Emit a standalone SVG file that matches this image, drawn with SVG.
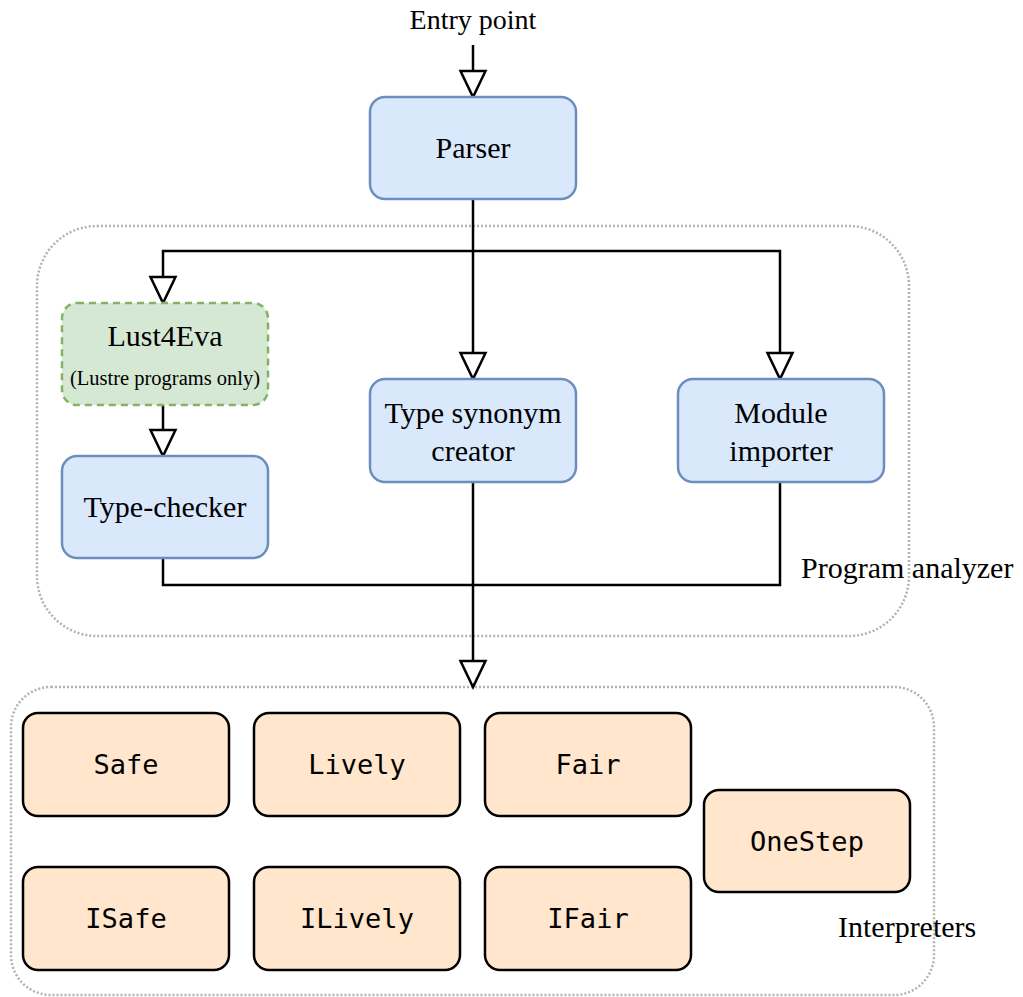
<svg xmlns="http://www.w3.org/2000/svg" width="1023" height="997" viewBox="0 0 1023 997">
<style>
.serif{font-family:"Liberation Serif","Times New Roman",serif;fill:#000;text-anchor:middle}
.mono{font-family:"DejaVu Sans Mono",monospace;fill:#000;text-anchor:middle;font-size:27px}
.blue{fill:#dae8fc;stroke:#6c8ebf;stroke-width:2.5}
.green{fill:#d5e8d4;stroke:#82b366;stroke-width:2.5;stroke-dasharray:7 5}
.orange{fill:#ffe6cc;stroke:#000;stroke-width:2.5}
.cont{fill:none;stroke:#b3b3b3;stroke-width:2.5;stroke-dasharray:2 2}
.edge{fill:none;stroke:#000;stroke-width:2.5}
</style>
<defs>
<marker id="open" markerUnits="userSpaceOnUse" viewBox="-2 -15 32 30" markerWidth="32" markerHeight="30" refX="26" refY="0" orient="auto">
<path d="M0,-12.5 L26,0 L0,12.5 Z" fill="#fff" stroke="#000" stroke-width="2.5"/>
</marker>
</defs>
<g id="program-analyzer">
<rect class="cont" x="37" y="226" width="872" height="410" rx="60"/>
<text class="serif" x="801" y="578" font-size="30" text-anchor="start" style="text-anchor:start">Program analyzer</text>
</g>
<g id="interpreters">
<rect class="cont" x="11" y="687" width="923" height="308" rx="40"/>
<text class="serif" x="838" y="937" font-size="30" style="text-anchor:start">Interpreters</text>
</g>
<g id="entry">
<text class="serif" x="473" y="29" font-size="28">Entry point</text>
</g>
<g id="connectors">
<path class="edge" d="M473,45 L473,97" marker-end="url(#open)"/>
<path class="edge" d="M473,199 L473,379" marker-end="url(#open)"/>
<path class="edge" d="M473,251 L163,251 L163,303" marker-end="url(#open)"/>
<path class="edge" d="M473,251 L780,251 L780,379" marker-end="url(#open)"/>
<path class="edge" d="M163,405 L163,456" marker-end="url(#open)"/>
<path class="edge" d="M163,558 L163,585 L780,585 L780,482"/>
<path class="edge" d="M473,482 L473,687" marker-end="url(#open)"/>
</g>
<g id="parser">
<rect class="blue" x="370" y="97" width="206" height="102" rx="15"/>
<text class="serif" x="473" y="158" font-size="30">Parser</text>
</g>
<g id="lust4eva">
<rect class="green" x="62" y="303" width="206" height="102" rx="15"/>
<text class="serif" x="165" y="346" font-size="30">Lust4Eva</text>
<text class="serif" x="165" y="385" font-size="20.5">(Lustre programs only)</text>
</g>
<g id="type-checker">
<rect class="blue" x="62" y="456" width="206" height="102" rx="15"/>
<text class="serif" x="165" y="517" font-size="30">Type-checker</text>
</g>
<g id="type-synonym">
<rect class="blue" x="370" y="379" width="206" height="103" rx="15"/>
<text class="serif" x="473" y="423" font-size="30">Type synonym</text>
<text class="serif" x="473" y="461" font-size="30">creator</text>
</g>
<g id="module-importer">
<rect class="blue" x="678" y="379" width="206" height="103" rx="15"/>
<text class="serif" x="781" y="423" font-size="30">Module</text>
<text class="serif" x="781" y="461" font-size="30">importer</text>
</g>
<g id="safe">
<rect class="orange" x="23" y="713" width="206" height="103" rx="15"/>
<text class="mono" x="126" y="774">Safe</text>
</g>
<g id="lively">
<rect class="orange" x="254" y="713" width="206" height="103" rx="15"/>
<text class="mono" x="357" y="774">Lively</text>
</g>
<g id="fair">
<rect class="orange" x="485" y="713" width="206" height="103" rx="15"/>
<text class="mono" x="588" y="774">Fair</text>
</g>
<g id="isafe">
<rect class="orange" x="23" y="867" width="206" height="103" rx="15"/>
<text class="mono" x="126" y="928">ISafe</text>
</g>
<g id="ilively">
<rect class="orange" x="254" y="867" width="206" height="103" rx="15"/>
<text class="mono" x="357" y="928">ILively</text>
</g>
<g id="ifair">
<rect class="orange" x="485" y="867" width="206" height="103" rx="15"/>
<text class="mono" x="588" y="928">IFair</text>
</g>
<g id="onestep">
<rect class="orange" x="704" y="790" width="206" height="102" rx="15"/>
<text class="mono" x="807" y="851">OneStep</text>
</g>
</svg>
